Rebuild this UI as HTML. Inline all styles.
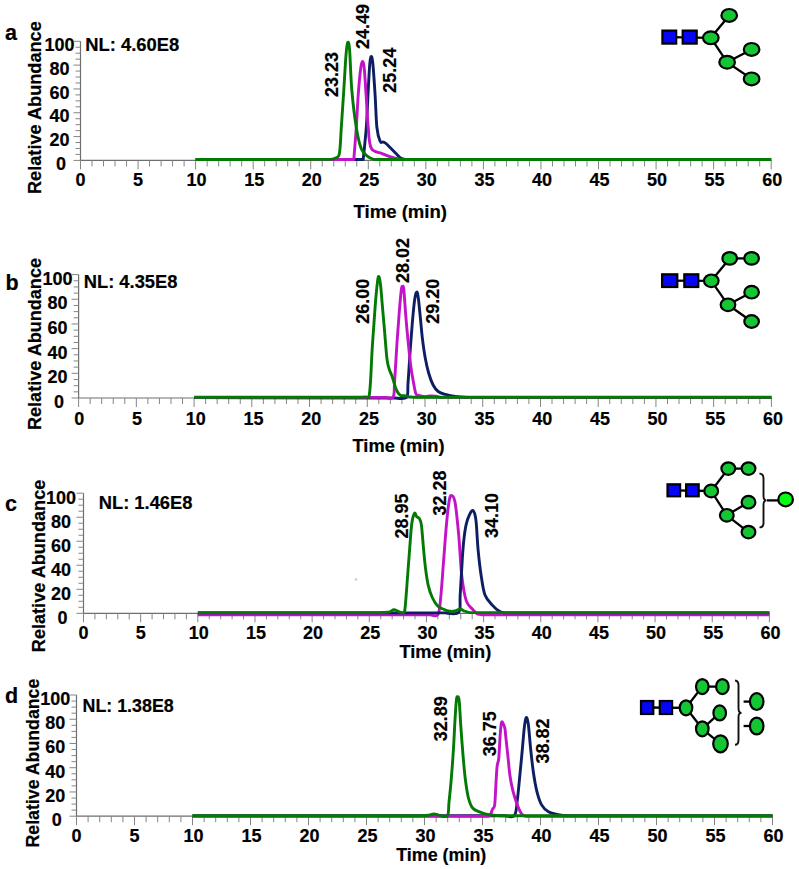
<!DOCTYPE html>
<html><head><meta charset="utf-8"><style>
html,body{margin:0;padding:0;background:#fff;width:799px;height:869px;overflow:hidden}
svg{display:block}
text{font-family:"Liberation Sans",sans-serif;font-weight:bold;fill:#000;stroke:#000;stroke-width:0.2px}
</style></head><body>
<svg width="799" height="869" viewBox="0 0 799 869">
<rect width="799" height="869" fill="#fff"/>
<text x="5.00" y="40.30" font-size="21.5" text-anchor="start">a</text>
<text x="0" y="0" font-size="18" text-anchor="start" transform="translate(41.00,194.00) rotate(-90)" textLength="172.8" lengthAdjust="spacingAndGlyphs">Relative Abundance</text>
<path d="M80.50,41.30 V160.40 H771.20" stroke="#6e6e6e" stroke-width="1.2" fill="none"/>
<g stroke="#858585" stroke-width="1.0" fill="none">
<path d="M73.50,160.40 H80.50"/>
<path d="M75.50,154.44 H80.50"/>
<path d="M75.50,148.49 H80.50"/>
<path d="M75.50,142.53 H80.50"/>
<path d="M73.50,136.58 H80.50"/>
<path d="M75.50,130.62 H80.50"/>
<path d="M75.50,124.67 H80.50"/>
<path d="M75.50,118.72 H80.50"/>
<path d="M73.50,112.76 H80.50"/>
<path d="M75.50,106.81 H80.50"/>
<path d="M75.50,100.85 H80.50"/>
<path d="M75.50,94.89 H80.50"/>
<path d="M73.50,88.94 H80.50"/>
<path d="M75.50,82.98 H80.50"/>
<path d="M75.50,77.03 H80.50"/>
<path d="M75.50,71.08 H80.50"/>
<path d="M73.50,65.12 H80.50"/>
<path d="M75.50,59.17 H80.50"/>
<path d="M75.50,53.21 H80.50"/>
<path d="M75.50,47.25 H80.50"/>
<path d="M73.50,41.30 H80.50"/>
<path d="M80.50,160.40 V169.40"/>
<path d="M92.01,160.40 V166.40"/>
<path d="M103.52,160.40 V166.40"/>
<path d="M115.03,160.40 V166.40"/>
<path d="M126.55,160.40 V166.40"/>
<path d="M138.06,160.40 V169.40"/>
<path d="M149.57,160.40 V166.40"/>
<path d="M161.08,160.40 V166.40"/>
<path d="M172.59,160.40 V166.40"/>
<path d="M184.11,160.40 V166.40"/>
<path d="M195.62,160.40 V169.40"/>
<path d="M207.13,160.40 V166.40"/>
<path d="M218.64,160.40 V166.40"/>
<path d="M230.15,160.40 V166.40"/>
<path d="M241.66,160.40 V166.40"/>
<path d="M253.18,160.40 V169.40"/>
<path d="M264.69,160.40 V166.40"/>
<path d="M276.20,160.40 V166.40"/>
<path d="M287.71,160.40 V166.40"/>
<path d="M299.22,160.40 V166.40"/>
<path d="M310.73,160.40 V169.40"/>
<path d="M322.25,160.40 V166.40"/>
<path d="M333.76,160.40 V166.40"/>
<path d="M345.27,160.40 V166.40"/>
<path d="M356.78,160.40 V166.40"/>
<path d="M368.29,160.40 V169.40"/>
<path d="M379.80,160.40 V166.40"/>
<path d="M391.31,160.40 V166.40"/>
<path d="M402.83,160.40 V166.40"/>
<path d="M414.34,160.40 V166.40"/>
<path d="M425.85,160.40 V169.40"/>
<path d="M437.36,160.40 V166.40"/>
<path d="M448.87,160.40 V166.40"/>
<path d="M460.38,160.40 V166.40"/>
<path d="M471.90,160.40 V166.40"/>
<path d="M483.41,160.40 V169.40"/>
<path d="M494.92,160.40 V166.40"/>
<path d="M506.43,160.40 V166.40"/>
<path d="M517.94,160.40 V166.40"/>
<path d="M529.45,160.40 V166.40"/>
<path d="M540.97,160.40 V169.40"/>
<path d="M552.48,160.40 V166.40"/>
<path d="M563.99,160.40 V166.40"/>
<path d="M575.50,160.40 V166.40"/>
<path d="M587.01,160.40 V166.40"/>
<path d="M598.52,160.40 V169.40"/>
<path d="M610.04,160.40 V166.40"/>
<path d="M621.55,160.40 V166.40"/>
<path d="M633.06,160.40 V166.40"/>
<path d="M644.57,160.40 V166.40"/>
<path d="M656.08,160.40 V169.40"/>
<path d="M667.60,160.40 V166.40"/>
<path d="M679.11,160.40 V166.40"/>
<path d="M690.62,160.40 V166.40"/>
<path d="M702.13,160.40 V166.40"/>
<path d="M713.64,160.40 V169.40"/>
<path d="M725.15,160.40 V166.40"/>
<path d="M736.66,160.40 V166.40"/>
<path d="M748.18,160.40 V166.40"/>
<path d="M759.69,160.40 V166.40"/>
<path d="M771.20,160.40 V169.40"/>
</g>
<text x="60.90" y="170.10" font-size="18" text-anchor="middle">0</text>
<text x="59.40" y="146.28" font-size="18" text-anchor="middle">20</text>
<text x="59.40" y="122.46" font-size="18" text-anchor="middle">40</text>
<text x="59.40" y="98.64" font-size="18" text-anchor="middle">60</text>
<text x="59.40" y="74.82" font-size="18" text-anchor="middle">80</text>
<text x="59.40" y="51.00" font-size="18" text-anchor="middle">100</text>
<text x="80.50" y="186.30" font-size="18" text-anchor="middle">0</text>
<text x="138.06" y="186.30" font-size="18" text-anchor="middle">5</text>
<text x="196.62" y="186.30" font-size="18" text-anchor="middle">10</text>
<text x="254.18" y="186.30" font-size="18" text-anchor="middle">15</text>
<text x="311.73" y="186.30" font-size="18" text-anchor="middle">20</text>
<text x="369.29" y="186.30" font-size="18" text-anchor="middle">25</text>
<text x="426.85" y="186.30" font-size="18" text-anchor="middle">30</text>
<text x="484.41" y="186.30" font-size="18" text-anchor="middle">35</text>
<text x="541.97" y="186.30" font-size="18" text-anchor="middle">40</text>
<text x="599.52" y="186.30" font-size="18" text-anchor="middle">45</text>
<text x="657.08" y="186.30" font-size="18" text-anchor="middle">50</text>
<text x="714.64" y="186.30" font-size="18" text-anchor="middle">55</text>
<text x="772.20" y="186.30" font-size="18" text-anchor="middle">60</text>
<text x="353.50" y="217.80" font-size="18" text-anchor="start" textLength="93.5" lengthAdjust="spacingAndGlyphs">Time (min)</text>
<text x="85.20" y="51.30" font-size="18" text-anchor="start" textLength="94.0" lengthAdjust="spacingAndGlyphs">NL: 4.60E8</text>
<path d="M195.62,159.50 L363.20,159.50 C363.72,154.17 365.50,138.25 366.30,127.50 C367.10,116.75 367.45,105.25 368.00,95.00 C368.55,84.75 369.10,72.42 369.60,66.00 C370.10,59.58 370.47,57.00 371.00,56.50 C371.53,56.00 372.12,56.58 372.80,63.00 C373.48,69.42 374.42,84.25 375.10,95.00 C375.78,105.75 376.07,119.78 376.90,127.50 C377.73,135.22 379.08,138.88 380.10,141.30 C381.12,143.72 382.02,141.63 383.00,142.00 C383.98,142.37 384.62,142.37 386.00,143.50 C387.38,144.63 389.63,147.13 391.30,148.80 C392.97,150.47 394.53,152.03 396.00,153.50 C397.47,154.97 398.60,156.62 400.10,157.60 C401.60,158.58 404.18,159.10 405.00,159.40 L771.20,159.50" fill="none" stroke="#0e1e62" stroke-width="2.90" stroke-linejoin="round" stroke-linecap="butt"/>
<path d="M195.62,159.50 L353.80,159.50 C354.22,154.17 355.57,138.25 356.30,127.50 C357.03,116.75 357.50,104.58 358.20,95.00 C358.90,85.42 359.82,75.58 360.50,70.00 C361.18,64.42 361.68,61.83 362.30,61.50 C362.92,61.17 363.57,62.42 364.20,68.00 C364.83,73.58 365.43,85.08 366.10,95.00 C366.77,104.92 367.33,118.63 368.20,127.50 C369.07,136.37 368.90,143.82 371.30,148.20 C373.70,152.58 378.63,152.13 382.60,153.80 C386.57,155.47 391.87,157.25 395.10,158.20 C398.33,159.15 400.85,159.28 402.00,159.50 L771.20,159.50" fill="none" stroke="#c412c8" stroke-width="2.90" stroke-linejoin="round" stroke-linecap="butt"/>
<path d="M195.62,159.50 L331.30,159.40 C331.92,159.20 333.75,158.82 335.00,158.20 C336.25,157.58 337.93,157.73 338.80,155.70 C339.67,153.67 339.78,150.70 340.20,146.00 C340.62,141.30 340.70,136.83 341.30,127.50 C341.90,118.17 343.02,102.08 343.80,90.00 C344.58,77.92 345.35,62.92 346.00,55.00 C346.65,47.08 347.10,43.33 347.70,42.50 C348.30,41.67 348.92,42.08 349.60,50.00 C350.28,57.92 350.68,77.08 351.80,90.00 C352.92,102.92 354.72,117.70 356.30,127.50 C357.88,137.30 359.42,144.00 361.30,148.80 C363.18,153.60 365.48,154.52 367.60,156.30 C369.72,158.08 372.93,158.97 374.00,159.50 L771.20,159.50" fill="none" stroke="#037a03" stroke-width="2.90" stroke-linejoin="round" stroke-linecap="butt"/>
<text x="0" y="0" font-size="18" text-anchor="start" transform="translate(338.40,96.90) rotate(-90)" textLength="45" lengthAdjust="spacingAndGlyphs">23.23</text>
<text x="0" y="0" font-size="18" text-anchor="start" transform="translate(368.70,49.00) rotate(-90)" textLength="45" lengthAdjust="spacingAndGlyphs">24.49</text>
<text x="0" y="0" font-size="18" text-anchor="start" transform="translate(396.00,92.70) rotate(-90)" textLength="45" lengthAdjust="spacingAndGlyphs">25.24</text>
<path d="M669.30,37.10 L710.80,37.80" stroke="#000" stroke-width="2.3" fill="none"/>
<path d="M710.80,37.80 L729.20,15.40" stroke="#000" stroke-width="2.3" fill="none"/>
<path d="M710.80,37.80 L727.10,62.20" stroke="#000" stroke-width="2.3" fill="none"/>
<path d="M727.10,62.20 L751.60,49.40" stroke="#000" stroke-width="2.3" fill="none"/>
<path d="M727.10,62.20 L751.60,78.90" stroke="#000" stroke-width="2.3" fill="none"/>
<rect x="662.40" y="30.60" width="13.80" height="13.00" fill="#0606f4" stroke="#000" stroke-width="2.2"/>
<rect x="682.70" y="30.60" width="14.00" height="13.00" fill="#0606f4" stroke="#000" stroke-width="2.2"/>
<ellipse cx="710.80" cy="37.80" rx="7.80" ry="6.40" fill="#14c634" stroke="#000" stroke-width="2.2"/>
<ellipse cx="729.20" cy="15.40" rx="7.80" ry="6.40" fill="#14c634" stroke="#000" stroke-width="2.2"/>
<ellipse cx="727.10" cy="62.20" rx="7.80" ry="6.40" fill="#14c634" stroke="#000" stroke-width="2.2"/>
<ellipse cx="751.60" cy="49.40" rx="7.80" ry="6.40" fill="#14c634" stroke="#000" stroke-width="2.2"/>
<ellipse cx="751.60" cy="78.90" rx="7.80" ry="6.40" fill="#14c634" stroke="#000" stroke-width="2.2"/>
<text x="5.50" y="290.00" font-size="21.5" text-anchor="start">b</text>
<text x="0" y="0" font-size="18" text-anchor="start" transform="translate(40.80,430.00) rotate(-90)" textLength="172.0" lengthAdjust="spacingAndGlyphs">Relative Abundance</text>
<path d="M78.60,274.60 V398.00 H771.40" stroke="#6e6e6e" stroke-width="1.2" fill="none"/>
<g stroke="#858585" stroke-width="1.0" fill="none">
<path d="M71.60,398.00 H78.60"/>
<path d="M73.60,391.83 H78.60"/>
<path d="M73.60,385.66 H78.60"/>
<path d="M73.60,379.49 H78.60"/>
<path d="M71.60,373.32 H78.60"/>
<path d="M73.60,367.15 H78.60"/>
<path d="M73.60,360.98 H78.60"/>
<path d="M73.60,354.81 H78.60"/>
<path d="M71.60,348.64 H78.60"/>
<path d="M73.60,342.47 H78.60"/>
<path d="M73.60,336.30 H78.60"/>
<path d="M73.60,330.13 H78.60"/>
<path d="M71.60,323.96 H78.60"/>
<path d="M73.60,317.79 H78.60"/>
<path d="M73.60,311.62 H78.60"/>
<path d="M73.60,305.45 H78.60"/>
<path d="M71.60,299.28 H78.60"/>
<path d="M73.60,293.11 H78.60"/>
<path d="M73.60,286.94 H78.60"/>
<path d="M73.60,280.77 H78.60"/>
<path d="M71.60,274.60 H78.60"/>
<path d="M78.60,398.00 V407.00"/>
<path d="M90.15,398.00 V404.00"/>
<path d="M101.69,398.00 V404.00"/>
<path d="M113.24,398.00 V404.00"/>
<path d="M124.79,398.00 V404.00"/>
<path d="M136.33,398.00 V407.00"/>
<path d="M147.88,398.00 V404.00"/>
<path d="M159.43,398.00 V404.00"/>
<path d="M170.97,398.00 V404.00"/>
<path d="M182.52,398.00 V404.00"/>
<path d="M194.07,398.00 V407.00"/>
<path d="M205.61,398.00 V404.00"/>
<path d="M217.16,398.00 V404.00"/>
<path d="M228.71,398.00 V404.00"/>
<path d="M240.25,398.00 V404.00"/>
<path d="M251.80,398.00 V407.00"/>
<path d="M263.35,398.00 V404.00"/>
<path d="M274.89,398.00 V404.00"/>
<path d="M286.44,398.00 V404.00"/>
<path d="M297.99,398.00 V404.00"/>
<path d="M309.53,398.00 V407.00"/>
<path d="M321.08,398.00 V404.00"/>
<path d="M332.63,398.00 V404.00"/>
<path d="M344.17,398.00 V404.00"/>
<path d="M355.72,398.00 V404.00"/>
<path d="M367.27,398.00 V407.00"/>
<path d="M378.81,398.00 V404.00"/>
<path d="M390.36,398.00 V404.00"/>
<path d="M401.91,398.00 V404.00"/>
<path d="M413.45,398.00 V404.00"/>
<path d="M425.00,398.00 V407.00"/>
<path d="M436.55,398.00 V404.00"/>
<path d="M448.09,398.00 V404.00"/>
<path d="M459.64,398.00 V404.00"/>
<path d="M471.19,398.00 V404.00"/>
<path d="M482.73,398.00 V407.00"/>
<path d="M494.28,398.00 V404.00"/>
<path d="M505.83,398.00 V404.00"/>
<path d="M517.37,398.00 V404.00"/>
<path d="M528.92,398.00 V404.00"/>
<path d="M540.47,398.00 V407.00"/>
<path d="M552.01,398.00 V404.00"/>
<path d="M563.56,398.00 V404.00"/>
<path d="M575.11,398.00 V404.00"/>
<path d="M586.65,398.00 V404.00"/>
<path d="M598.20,398.00 V407.00"/>
<path d="M609.75,398.00 V404.00"/>
<path d="M621.29,398.00 V404.00"/>
<path d="M632.84,398.00 V404.00"/>
<path d="M644.39,398.00 V404.00"/>
<path d="M655.93,398.00 V407.00"/>
<path d="M667.48,398.00 V404.00"/>
<path d="M679.03,398.00 V404.00"/>
<path d="M690.57,398.00 V404.00"/>
<path d="M702.12,398.00 V404.00"/>
<path d="M713.67,398.00 V407.00"/>
<path d="M725.21,398.00 V404.00"/>
<path d="M736.76,398.00 V404.00"/>
<path d="M748.31,398.00 V404.00"/>
<path d="M759.85,398.00 V404.00"/>
<path d="M771.40,398.00 V407.00"/>
</g>
<text x="59.00" y="408.00" font-size="18" text-anchor="middle">0</text>
<text x="57.50" y="383.32" font-size="18" text-anchor="middle">20</text>
<text x="57.50" y="358.64" font-size="18" text-anchor="middle">40</text>
<text x="57.50" y="333.96" font-size="18" text-anchor="middle">60</text>
<text x="57.50" y="309.28" font-size="18" text-anchor="middle">80</text>
<text x="57.50" y="284.60" font-size="18" text-anchor="middle">100</text>
<text x="79.30" y="424.50" font-size="18" text-anchor="middle">0</text>
<text x="137.03" y="424.50" font-size="18" text-anchor="middle">5</text>
<text x="195.77" y="424.50" font-size="18" text-anchor="middle">10</text>
<text x="253.50" y="424.50" font-size="18" text-anchor="middle">15</text>
<text x="311.23" y="424.50" font-size="18" text-anchor="middle">20</text>
<text x="368.97" y="424.50" font-size="18" text-anchor="middle">25</text>
<text x="426.70" y="424.50" font-size="18" text-anchor="middle">30</text>
<text x="484.43" y="424.50" font-size="18" text-anchor="middle">35</text>
<text x="542.17" y="424.50" font-size="18" text-anchor="middle">40</text>
<text x="599.90" y="424.50" font-size="18" text-anchor="middle">45</text>
<text x="657.63" y="424.50" font-size="18" text-anchor="middle">50</text>
<text x="715.37" y="424.50" font-size="18" text-anchor="middle">55</text>
<text x="773.10" y="424.50" font-size="18" text-anchor="middle">60</text>
<text x="352.50" y="451.60" font-size="18" text-anchor="start" textLength="92.0" lengthAdjust="spacingAndGlyphs">Time (min)</text>
<text x="83.75" y="288.00" font-size="18" text-anchor="start" textLength="93.7" lengthAdjust="spacingAndGlyphs">NL: 4.35E8</text>
<path d="M194.07,397.60 L395.00,398.00 C396.92,397.88 404.33,399.70 406.50,397.30 C408.67,394.90 407.40,391.17 408.00,383.60 C408.60,376.03 409.38,361.97 410.10,351.90 C410.82,341.83 411.58,331.58 412.30,323.20 C413.02,314.82 413.73,306.72 414.40,301.60 C415.07,296.48 415.70,293.47 416.30,292.50 C416.90,291.53 417.35,291.88 418.00,295.80 C418.65,299.72 419.48,309.03 420.20,316.00 C420.92,322.97 421.47,330.65 422.30,337.60 C423.13,344.55 424.12,351.72 425.20,357.70 C426.28,363.68 427.48,368.95 428.80,373.50 C430.12,378.05 431.53,382.00 433.10,385.00 C434.67,388.00 436.15,389.93 438.20,391.50 C440.25,393.07 442.53,393.57 445.40,394.40 C448.27,395.23 451.33,396.00 455.40,396.50 C459.47,397.00 465.70,397.22 469.80,397.40 C473.90,397.58 478.30,397.57 480.00,397.60 L771.40,397.60" fill="none" stroke="#0e1e62" stroke-width="2.90" stroke-linejoin="round" stroke-linecap="butt"/>
<path d="M194.07,397.40 L385.00,397.40 C386.35,397.37 391.50,399.83 393.10,397.20 C394.70,394.57 393.95,390.68 394.60,381.60 C395.25,372.52 396.22,354.37 397.00,342.70 C397.78,331.03 398.58,320.38 399.30,311.60 C400.02,302.82 400.78,294.17 401.30,290.00 C401.82,285.83 401.98,286.68 402.40,286.60 C402.82,286.52 403.23,284.60 403.80,289.50 C404.37,294.40 405.10,307.52 405.80,316.00 C406.50,324.48 407.17,332.02 408.00,340.40 C408.83,348.78 409.85,359.10 410.80,366.30 C411.75,373.50 412.85,379.03 413.70,383.60 C414.55,388.17 415.07,391.72 415.90,393.70 C416.73,395.68 417.18,395.02 418.70,395.50 C420.22,395.98 423.12,396.52 425.00,396.60 C426.88,396.68 428.28,396.07 430.00,396.00 C431.72,395.93 433.63,395.97 435.30,396.20 C436.97,396.43 439.22,397.20 440.00,397.40 L771.40,397.40" fill="none" stroke="#c412c8" stroke-width="2.90" stroke-linejoin="round" stroke-linecap="butt"/>
<path d="M194.07,397.20 L360.00,397.20 C361.00,397.15 364.50,397.03 366.00,396.90 C367.50,396.77 368.25,398.95 369.00,396.40 C369.75,393.85 369.98,389.25 370.50,381.60 C371.02,373.95 371.57,359.57 372.10,350.50 C372.63,341.43 373.05,336.27 373.70,327.20 C374.35,318.13 375.23,304.47 376.00,296.10 C376.77,287.73 377.57,279.07 378.30,277.00 C379.03,274.93 379.75,279.22 380.40,283.70 C381.05,288.18 381.52,296.13 382.20,303.90 C382.88,311.67 383.72,321.23 384.50,330.30 C385.28,339.37 386.12,351.82 386.90,358.30 C387.68,364.78 388.30,366.10 389.20,369.20 C390.10,372.30 391.13,373.53 392.30,376.90 C393.47,380.27 394.90,386.35 396.20,389.40 C397.50,392.45 398.68,394.13 400.10,395.20 C401.52,396.27 403.28,395.57 404.70,395.80 C406.12,396.03 406.88,396.37 408.60,396.60 C410.32,396.83 413.93,397.10 415.00,397.20 L771.40,397.20" fill="none" stroke="#037a03" stroke-width="2.90" stroke-linejoin="round" stroke-linecap="butt"/>
<text x="0" y="0" font-size="18" text-anchor="start" transform="translate(368.50,323.80) rotate(-90)" textLength="45" lengthAdjust="spacingAndGlyphs">26.00</text>
<text x="0" y="0" font-size="18" text-anchor="start" transform="translate(408.70,283.00) rotate(-90)" textLength="45" lengthAdjust="spacingAndGlyphs">28.02</text>
<text x="0" y="0" font-size="18" text-anchor="start" transform="translate(439.00,323.70) rotate(-90)" textLength="45" lengthAdjust="spacingAndGlyphs">29.20</text>
<path d="M669.70,280.65 L711.30,280.80" stroke="#000" stroke-width="2.3" fill="none"/>
<path d="M711.30,280.80 L729.70,258.40" stroke="#000" stroke-width="2.3" fill="none"/>
<path d="M729.70,258.40 L751.60,258.40" stroke="#000" stroke-width="2.3" fill="none"/>
<path d="M711.30,280.80 L728.00,304.80" stroke="#000" stroke-width="2.3" fill="none"/>
<path d="M728.00,304.80 L751.60,292.20" stroke="#000" stroke-width="2.3" fill="none"/>
<path d="M728.00,304.80 L751.60,321.50" stroke="#000" stroke-width="2.3" fill="none"/>
<rect x="662.10" y="274.30" width="15.20" height="12.70" fill="#0606f4" stroke="#000" stroke-width="2.2"/>
<rect x="684.30" y="274.30" width="14.00" height="12.70" fill="#0606f4" stroke="#000" stroke-width="2.2"/>
<ellipse cx="711.30" cy="280.80" rx="7.30" ry="6.30" fill="#14c634" stroke="#000" stroke-width="2.2"/>
<ellipse cx="729.70" cy="258.40" rx="7.30" ry="6.30" fill="#14c634" stroke="#000" stroke-width="2.2"/>
<ellipse cx="751.60" cy="258.40" rx="7.30" ry="6.30" fill="#14c634" stroke="#000" stroke-width="2.2"/>
<ellipse cx="728.00" cy="304.80" rx="7.30" ry="6.30" fill="#14c634" stroke="#000" stroke-width="2.2"/>
<ellipse cx="751.60" cy="292.20" rx="7.30" ry="6.30" fill="#14c634" stroke="#000" stroke-width="2.2"/>
<ellipse cx="751.60" cy="321.50" rx="7.30" ry="6.30" fill="#14c634" stroke="#000" stroke-width="2.2"/>
<text x="5.00" y="511.20" font-size="21.5" text-anchor="start">c</text>
<text x="0" y="0" font-size="18" text-anchor="start" transform="translate(45.00,652.20) rotate(-90)" textLength="172.5" lengthAdjust="spacingAndGlyphs">Relative Abundance</text>
<path d="M83.50,493.20 V613.30 H769.40" stroke="#6e6e6e" stroke-width="1.2" fill="none"/>
<g stroke="#858585" stroke-width="1.0" fill="none">
<path d="M76.50,613.30 H83.50"/>
<path d="M78.50,607.29 H83.50"/>
<path d="M78.50,601.29 H83.50"/>
<path d="M78.50,595.28 H83.50"/>
<path d="M76.50,589.28 H83.50"/>
<path d="M78.50,583.27 H83.50"/>
<path d="M78.50,577.27 H83.50"/>
<path d="M78.50,571.26 H83.50"/>
<path d="M76.50,565.26 H83.50"/>
<path d="M78.50,559.25 H83.50"/>
<path d="M78.50,553.25 H83.50"/>
<path d="M78.50,547.25 H83.50"/>
<path d="M76.50,541.24 H83.50"/>
<path d="M78.50,535.24 H83.50"/>
<path d="M78.50,529.23 H83.50"/>
<path d="M78.50,523.23 H83.50"/>
<path d="M76.50,517.22 H83.50"/>
<path d="M78.50,511.21 H83.50"/>
<path d="M78.50,505.21 H83.50"/>
<path d="M78.50,499.20 H83.50"/>
<path d="M76.50,493.20 H83.50"/>
<path d="M83.50,613.30 V622.30"/>
<path d="M94.93,613.30 V619.30"/>
<path d="M106.36,613.30 V619.30"/>
<path d="M117.80,613.30 V619.30"/>
<path d="M129.23,613.30 V619.30"/>
<path d="M140.66,613.30 V622.30"/>
<path d="M152.09,613.30 V619.30"/>
<path d="M163.52,613.30 V619.30"/>
<path d="M174.95,613.30 V619.30"/>
<path d="M186.38,613.30 V619.30"/>
<path d="M197.82,613.30 V622.30"/>
<path d="M209.25,613.30 V619.30"/>
<path d="M220.68,613.30 V619.30"/>
<path d="M232.11,613.30 V619.30"/>
<path d="M243.54,613.30 V619.30"/>
<path d="M254.97,613.30 V622.30"/>
<path d="M266.41,613.30 V619.30"/>
<path d="M277.84,613.30 V619.30"/>
<path d="M289.27,613.30 V619.30"/>
<path d="M300.70,613.30 V619.30"/>
<path d="M312.13,613.30 V622.30"/>
<path d="M323.56,613.30 V619.30"/>
<path d="M335.00,613.30 V619.30"/>
<path d="M346.43,613.30 V619.30"/>
<path d="M357.86,613.30 V619.30"/>
<path d="M369.29,613.30 V622.30"/>
<path d="M380.72,613.30 V619.30"/>
<path d="M392.15,613.30 V619.30"/>
<path d="M403.59,613.30 V619.30"/>
<path d="M415.02,613.30 V619.30"/>
<path d="M426.45,613.30 V622.30"/>
<path d="M437.88,613.30 V619.30"/>
<path d="M449.31,613.30 V619.30"/>
<path d="M460.75,613.30 V619.30"/>
<path d="M472.18,613.30 V619.30"/>
<path d="M483.61,613.30 V622.30"/>
<path d="M495.04,613.30 V619.30"/>
<path d="M506.47,613.30 V619.30"/>
<path d="M517.90,613.30 V619.30"/>
<path d="M529.34,613.30 V619.30"/>
<path d="M540.77,613.30 V622.30"/>
<path d="M552.20,613.30 V619.30"/>
<path d="M563.63,613.30 V619.30"/>
<path d="M575.06,613.30 V619.30"/>
<path d="M586.49,613.30 V619.30"/>
<path d="M597.92,613.30 V622.30"/>
<path d="M609.36,613.30 V619.30"/>
<path d="M620.79,613.30 V619.30"/>
<path d="M632.22,613.30 V619.30"/>
<path d="M643.65,613.30 V619.30"/>
<path d="M655.08,613.30 V622.30"/>
<path d="M666.51,613.30 V619.30"/>
<path d="M677.95,613.30 V619.30"/>
<path d="M689.38,613.30 V619.30"/>
<path d="M700.81,613.30 V619.30"/>
<path d="M712.24,613.30 V622.30"/>
<path d="M723.67,613.30 V619.30"/>
<path d="M735.11,613.30 V619.30"/>
<path d="M746.54,613.30 V619.30"/>
<path d="M757.97,613.30 V619.30"/>
<path d="M769.40,613.30 V622.30"/>
</g>
<text x="62.50" y="623.60" font-size="18" text-anchor="middle">0</text>
<text x="61.00" y="599.58" font-size="18" text-anchor="middle">20</text>
<text x="61.00" y="575.56" font-size="18" text-anchor="middle">40</text>
<text x="61.00" y="551.54" font-size="18" text-anchor="middle">60</text>
<text x="61.00" y="527.52" font-size="18" text-anchor="middle">80</text>
<text x="61.00" y="503.50" font-size="18" text-anchor="middle">100</text>
<text x="83.50" y="638.80" font-size="18" text-anchor="middle">0</text>
<text x="140.66" y="638.80" font-size="18" text-anchor="middle">5</text>
<text x="198.82" y="638.80" font-size="18" text-anchor="middle">10</text>
<text x="255.97" y="638.80" font-size="18" text-anchor="middle">15</text>
<text x="313.13" y="638.80" font-size="18" text-anchor="middle">20</text>
<text x="370.29" y="638.80" font-size="18" text-anchor="middle">25</text>
<text x="427.45" y="638.80" font-size="18" text-anchor="middle">30</text>
<text x="484.61" y="638.80" font-size="18" text-anchor="middle">35</text>
<text x="541.77" y="638.80" font-size="18" text-anchor="middle">40</text>
<text x="598.92" y="638.80" font-size="18" text-anchor="middle">45</text>
<text x="656.08" y="638.80" font-size="18" text-anchor="middle">50</text>
<text x="713.24" y="638.80" font-size="18" text-anchor="middle">55</text>
<text x="770.40" y="638.80" font-size="18" text-anchor="middle">60</text>
<text x="399.50" y="657.50" font-size="18" text-anchor="start" textLength="91.8" lengthAdjust="spacingAndGlyphs">Time (min)</text>
<text x="98.75" y="508.75" font-size="18" text-anchor="start" textLength="93.7" lengthAdjust="spacingAndGlyphs">NL: 1.46E8</text>
<path d="M197.82,614.70 L430.00,614.70 C431.33,614.65 436.20,617.42 438.00,614.40 C439.80,611.38 439.88,605.32 440.80,596.60 C441.72,587.88 442.55,574.20 443.50,562.10 C444.45,550.00 445.58,534.02 446.50,524.00 C447.42,513.98 448.22,506.75 449.00,502.00 C449.78,497.25 450.20,495.50 451.20,495.50 C452.20,495.50 453.75,495.43 455.00,502.00 C456.25,508.57 457.58,522.70 458.70,534.90 C459.82,547.10 460.45,564.25 461.70,575.20 C462.95,586.15 464.33,594.87 466.20,600.60 C468.07,606.33 471.03,607.37 472.90,609.60 C474.77,611.83 475.88,613.15 477.40,614.00 C478.92,614.85 481.23,614.58 482.00,614.70 L769.40,614.70" fill="none" stroke="#c412c8" stroke-width="2.90" stroke-linejoin="round" stroke-linecap="butt"/>
<path d="M197.82,612.90 L445.00,612.90 C447.28,612.80 456.17,615.33 458.70,612.30 C461.23,609.27 459.58,603.87 460.20,594.70 C460.82,585.53 461.78,566.53 462.40,557.30 C463.02,548.07 463.27,544.78 463.90,539.30 C464.53,533.82 465.32,528.38 466.20,524.40 C467.08,520.42 468.08,517.72 469.20,515.40 C470.32,513.08 471.78,509.75 472.90,510.50 C474.02,511.25 475.03,513.35 475.90,519.90 C476.77,526.45 477.23,540.58 478.10,549.80 C478.97,559.02 479.97,567.72 481.10,575.20 C482.23,582.68 483.03,589.72 484.90,594.70 C486.77,599.68 489.82,602.28 492.30,605.10 C494.78,607.92 497.68,610.30 499.80,611.60 C501.92,612.90 504.13,612.68 505.00,612.90 L769.40,612.90" fill="none" stroke="#0e1e62" stroke-width="2.90" stroke-linejoin="round" stroke-linecap="butt"/>
<path d="M197.82,612.60 L380.00,612.60 C381.62,612.47 387.40,612.30 389.70,611.80 C392.00,611.30 392.50,609.73 393.80,609.60 C395.10,609.47 396.35,610.53 397.50,611.00 C398.65,611.47 399.58,612.17 400.70,612.40 C401.82,612.63 403.40,613.87 404.20,612.40 C405.00,610.93 404.93,609.67 405.50,603.60 C406.07,597.53 406.90,585.22 407.60,576.00 C408.30,566.78 409.00,557.05 409.70,548.30 C410.40,539.55 411.00,529.33 411.80,523.50 C412.60,517.67 413.70,514.45 414.50,513.30 C415.30,512.15 415.80,515.72 416.60,516.60 C417.40,517.48 418.50,517.22 419.30,518.60 C420.10,519.98 420.70,519.95 421.40,524.90 C422.10,529.85 422.80,540.95 423.50,548.30 C424.20,555.65 424.80,562.78 425.60,569.00 C426.40,575.22 427.15,580.77 428.30,585.60 C429.45,590.43 430.88,594.55 432.50,598.00 C434.12,601.45 435.93,604.33 438.00,606.30 C440.07,608.27 442.90,608.97 444.90,609.80 C446.90,610.63 448.32,611.10 450.00,611.30 C451.68,611.50 453.30,611.40 455.00,611.00 C456.70,610.60 458.70,608.90 460.20,608.90 C461.70,608.90 462.37,610.38 464.00,611.00 C465.63,611.62 469.00,612.33 470.00,612.60 L769.40,612.60" fill="none" stroke="#037a03" stroke-width="2.90" stroke-linejoin="round" stroke-linecap="butt"/>
<text x="0" y="0" font-size="18" text-anchor="start" transform="translate(408.20,538.60) rotate(-90)" textLength="45" lengthAdjust="spacingAndGlyphs">28.95</text>
<text x="0" y="0" font-size="18" text-anchor="start" transform="translate(445.70,515.50) rotate(-90)" textLength="45" lengthAdjust="spacingAndGlyphs">32.28</text>
<text x="0" y="0" font-size="18" text-anchor="start" transform="translate(498.40,538.00) rotate(-90)" textLength="45" lengthAdjust="spacingAndGlyphs">34.10</text>
<path d="M673.80,490.30 L711.20,491.00" stroke="#000" stroke-width="2.3" fill="none"/>
<path d="M711.20,491.00 L728.30,468.60" stroke="#000" stroke-width="2.3" fill="none"/>
<path d="M728.30,468.60 L748.50,468.60" stroke="#000" stroke-width="2.3" fill="none"/>
<path d="M711.20,491.00 L726.80,515.30" stroke="#000" stroke-width="2.3" fill="none"/>
<path d="M726.80,515.30 L748.50,502.20" stroke="#000" stroke-width="2.3" fill="none"/>
<path d="M726.80,515.30 L748.50,532.10" stroke="#000" stroke-width="2.3" fill="none"/>
<rect x="667.50" y="484.30" width="12.60" height="12.00" fill="#0606f4" stroke="#000" stroke-width="2.2"/>
<rect x="686.10" y="484.30" width="12.60" height="12.00" fill="#0606f4" stroke="#000" stroke-width="2.2"/>
<ellipse cx="711.20" cy="491.00" rx="6.90" ry="6.30" fill="#14c634" stroke="#000" stroke-width="2.2"/>
<ellipse cx="728.30" cy="468.60" rx="6.90" ry="6.30" fill="#14c634" stroke="#000" stroke-width="2.2"/>
<ellipse cx="748.50" cy="468.60" rx="6.90" ry="6.30" fill="#14c634" stroke="#000" stroke-width="2.2"/>
<ellipse cx="726.80" cy="515.30" rx="6.90" ry="6.30" fill="#14c634" stroke="#000" stroke-width="2.2"/>
<ellipse cx="748.50" cy="502.20" rx="6.90" ry="6.30" fill="#14c634" stroke="#000" stroke-width="2.2"/>
<ellipse cx="748.50" cy="532.10" rx="6.90" ry="6.30" fill="#14c634" stroke="#000" stroke-width="2.2"/>
<path d="M759.5,473.5 Q763.5,474 763.5,478 V496 Q763.5,500.4 766.5,500.4 Q763.5,500.4 763.5,505 V523 Q763.5,527.4 759.5,527.4" stroke="#111" stroke-width="1.9" fill="none"/>
<path d="M767.00,500.40 L778.00,500.40" stroke="#000" stroke-width="2.3" fill="none"/>
<ellipse cx="785.60" cy="499.40" rx="7.30" ry="6.90" fill="#06fc12" stroke="#000" stroke-width="2.2"/>
<circle cx="356" cy="579.5" r="1.2" fill="#c8c8c8"/>
<text x="5.00" y="702.50" font-size="21.5" text-anchor="start">d</text>
<text x="0" y="0" font-size="18" text-anchor="start" transform="translate(39.20,847.50) rotate(-90)" textLength="168.8" lengthAdjust="spacingAndGlyphs">Relative Abundance</text>
<path d="M76.50,695.00 V816.20 H772.50" stroke="#6e6e6e" stroke-width="1.2" fill="none"/>
<g stroke="#858585" stroke-width="1.0" fill="none">
<path d="M69.50,816.20 H76.50"/>
<path d="M71.50,810.14 H76.50"/>
<path d="M71.50,804.08 H76.50"/>
<path d="M71.50,798.02 H76.50"/>
<path d="M69.50,791.96 H76.50"/>
<path d="M71.50,785.90 H76.50"/>
<path d="M71.50,779.84 H76.50"/>
<path d="M71.50,773.78 H76.50"/>
<path d="M69.50,767.72 H76.50"/>
<path d="M71.50,761.66 H76.50"/>
<path d="M71.50,755.60 H76.50"/>
<path d="M71.50,749.54 H76.50"/>
<path d="M69.50,743.48 H76.50"/>
<path d="M71.50,737.42 H76.50"/>
<path d="M71.50,731.36 H76.50"/>
<path d="M71.50,725.30 H76.50"/>
<path d="M69.50,719.24 H76.50"/>
<path d="M71.50,713.18 H76.50"/>
<path d="M71.50,707.12 H76.50"/>
<path d="M71.50,701.06 H76.50"/>
<path d="M69.50,695.00 H76.50"/>
<path d="M76.50,816.20 V825.20"/>
<path d="M88.10,816.20 V822.20"/>
<path d="M99.70,816.20 V822.20"/>
<path d="M111.30,816.20 V822.20"/>
<path d="M122.90,816.20 V822.20"/>
<path d="M134.50,816.20 V825.20"/>
<path d="M146.10,816.20 V822.20"/>
<path d="M157.70,816.20 V822.20"/>
<path d="M169.30,816.20 V822.20"/>
<path d="M180.90,816.20 V822.20"/>
<path d="M192.50,816.20 V825.20"/>
<path d="M204.10,816.20 V822.20"/>
<path d="M215.70,816.20 V822.20"/>
<path d="M227.30,816.20 V822.20"/>
<path d="M238.90,816.20 V822.20"/>
<path d="M250.50,816.20 V825.20"/>
<path d="M262.10,816.20 V822.20"/>
<path d="M273.70,816.20 V822.20"/>
<path d="M285.30,816.20 V822.20"/>
<path d="M296.90,816.20 V822.20"/>
<path d="M308.50,816.20 V825.20"/>
<path d="M320.10,816.20 V822.20"/>
<path d="M331.70,816.20 V822.20"/>
<path d="M343.30,816.20 V822.20"/>
<path d="M354.90,816.20 V822.20"/>
<path d="M366.50,816.20 V825.20"/>
<path d="M378.10,816.20 V822.20"/>
<path d="M389.70,816.20 V822.20"/>
<path d="M401.30,816.20 V822.20"/>
<path d="M412.90,816.20 V822.20"/>
<path d="M424.50,816.20 V825.20"/>
<path d="M436.10,816.20 V822.20"/>
<path d="M447.70,816.20 V822.20"/>
<path d="M459.30,816.20 V822.20"/>
<path d="M470.90,816.20 V822.20"/>
<path d="M482.50,816.20 V825.20"/>
<path d="M494.10,816.20 V822.20"/>
<path d="M505.70,816.20 V822.20"/>
<path d="M517.30,816.20 V822.20"/>
<path d="M528.90,816.20 V822.20"/>
<path d="M540.50,816.20 V825.20"/>
<path d="M552.10,816.20 V822.20"/>
<path d="M563.70,816.20 V822.20"/>
<path d="M575.30,816.20 V822.20"/>
<path d="M586.90,816.20 V822.20"/>
<path d="M598.50,816.20 V825.20"/>
<path d="M610.10,816.20 V822.20"/>
<path d="M621.70,816.20 V822.20"/>
<path d="M633.30,816.20 V822.20"/>
<path d="M644.90,816.20 V822.20"/>
<path d="M656.50,816.20 V825.20"/>
<path d="M668.10,816.20 V822.20"/>
<path d="M679.70,816.20 V822.20"/>
<path d="M691.30,816.20 V822.20"/>
<path d="M702.90,816.20 V822.20"/>
<path d="M714.50,816.20 V825.20"/>
<path d="M726.10,816.20 V822.20"/>
<path d="M737.70,816.20 V822.20"/>
<path d="M749.30,816.20 V822.20"/>
<path d="M760.90,816.20 V822.20"/>
<path d="M772.50,816.20 V825.20"/>
</g>
<text x="56.80" y="826.20" font-size="18" text-anchor="middle">0</text>
<text x="55.30" y="801.96" font-size="18" text-anchor="middle">20</text>
<text x="55.30" y="777.72" font-size="18" text-anchor="middle">40</text>
<text x="55.30" y="753.48" font-size="18" text-anchor="middle">60</text>
<text x="55.30" y="729.24" font-size="18" text-anchor="middle">80</text>
<text x="55.30" y="705.00" font-size="18" text-anchor="middle">100</text>
<text x="76.50" y="842.00" font-size="18" text-anchor="middle">0</text>
<text x="134.50" y="842.00" font-size="18" text-anchor="middle">5</text>
<text x="193.50" y="842.00" font-size="18" text-anchor="middle">10</text>
<text x="251.50" y="842.00" font-size="18" text-anchor="middle">15</text>
<text x="309.50" y="842.00" font-size="18" text-anchor="middle">20</text>
<text x="367.50" y="842.00" font-size="18" text-anchor="middle">25</text>
<text x="425.50" y="842.00" font-size="18" text-anchor="middle">30</text>
<text x="483.50" y="842.00" font-size="18" text-anchor="middle">35</text>
<text x="541.50" y="842.00" font-size="18" text-anchor="middle">40</text>
<text x="599.50" y="842.00" font-size="18" text-anchor="middle">45</text>
<text x="657.50" y="842.00" font-size="18" text-anchor="middle">50</text>
<text x="715.50" y="842.00" font-size="18" text-anchor="middle">55</text>
<text x="773.50" y="842.00" font-size="18" text-anchor="middle">60</text>
<text x="396.25" y="860.50" font-size="18" text-anchor="start" textLength="90.0" lengthAdjust="spacingAndGlyphs">Time (min)</text>
<text x="82.50" y="712.00" font-size="18" text-anchor="start" textLength="91.2" lengthAdjust="spacingAndGlyphs">NL: 1.38E8</text>
<path d="M192.50,815.80 L505.00,815.80 C506.58,815.75 512.43,818.23 514.50,815.50 C516.57,812.77 516.45,806.68 517.40,799.40 C518.35,792.12 519.38,780.08 520.20,771.80 C521.02,763.52 521.62,757.07 522.30,749.70 C522.98,742.33 523.67,732.97 524.30,727.60 C524.93,722.23 525.43,718.07 526.10,717.50 C526.77,716.93 527.55,719.07 528.30,724.20 C529.05,729.33 529.77,740.37 530.60,748.30 C531.43,756.23 532.27,764.67 533.30,771.80 C534.33,778.93 535.42,785.58 536.80,791.10 C538.18,796.62 539.65,801.45 541.60,804.90 C543.55,808.35 545.52,810.12 548.50,811.80 C551.48,813.48 555.92,814.33 559.50,815.00 C563.08,815.67 568.25,815.67 570.00,815.80 L772.50,815.80" fill="none" stroke="#0e1e62" stroke-width="2.90" stroke-linejoin="round" stroke-linecap="butt"/>
<path d="M192.50,816.30 L480.00,816.30 C481.50,816.25 487.25,816.28 489.00,816.00 C490.75,815.72 489.90,815.77 490.50,814.60 C491.10,813.43 491.90,810.62 492.60,809.00 C493.30,807.38 494.13,809.27 494.70,804.90 C495.27,800.53 495.60,789.23 496.00,782.80 C496.40,776.37 496.63,770.43 497.10,766.30 C497.57,762.17 498.28,763.30 498.80,758.00 C499.32,752.70 499.73,740.45 500.20,734.50 C500.67,728.55 501.07,724.02 501.60,722.30 C502.13,720.58 502.83,723.08 503.40,724.20 C503.97,725.32 504.62,727.05 505.00,729.00 C505.38,730.95 505.23,731.53 505.70,735.90 C506.17,740.27 507.12,748.77 507.80,755.20 C508.48,761.63 509.00,768.75 509.80,774.50 C510.60,780.25 511.43,784.87 512.60,789.70 C513.77,794.53 515.30,799.47 516.80,803.50 C518.30,807.53 520.07,811.77 521.60,813.90 C523.13,816.03 525.27,815.90 526.00,816.30 L772.50,816.30" fill="none" stroke="#c412c8" stroke-width="2.90" stroke-linejoin="round" stroke-linecap="butt"/>
<path d="M192.50,815.80 L420.00,815.70 C421.33,815.63 425.67,815.58 428.00,815.30 C430.33,815.02 432.00,813.97 434.00,814.00 C436.00,814.03 437.75,815.23 440.00,815.50 C442.25,815.77 446.00,817.80 447.50,815.60 C449.00,813.40 448.38,808.27 449.00,802.30 C449.62,796.33 450.47,788.53 451.20,779.80 C451.93,771.07 452.77,759.87 453.40,749.90 C454.03,739.93 454.50,728.32 455.00,720.00 C455.50,711.68 455.97,703.87 456.40,700.00 C456.83,696.13 457.13,696.63 457.60,696.80 C458.07,696.97 458.65,695.90 459.20,701.00 C459.75,706.10 460.23,718.00 460.90,727.40 C461.57,736.80 462.45,748.67 463.20,757.40 C463.95,766.13 464.53,773.07 465.40,779.80 C466.27,786.53 467.15,793.05 468.40,797.80 C469.65,802.55 470.65,805.80 472.90,808.30 C475.15,810.80 478.90,811.68 481.90,812.80 C484.90,813.92 487.88,814.52 490.90,815.00 C493.92,815.48 498.48,815.58 500.00,815.70 L772.50,815.80" fill="none" stroke="#037a03" stroke-width="2.90" stroke-linejoin="round" stroke-linecap="butt"/>
<text x="0" y="0" font-size="18" text-anchor="start" transform="translate(447.00,741.20) rotate(-90)" textLength="45" lengthAdjust="spacingAndGlyphs">32.89</text>
<text x="0" y="0" font-size="18" text-anchor="start" transform="translate(495.70,756.20) rotate(-90)" textLength="45" lengthAdjust="spacingAndGlyphs">36.75</text>
<text x="0" y="0" font-size="18" text-anchor="start" transform="translate(549.20,763.50) rotate(-90)" textLength="45" lengthAdjust="spacingAndGlyphs">38.82</text>
<path d="M647.30,707.50 L686.00,707.80" stroke="#000" stroke-width="2.3" fill="none"/>
<path d="M686.00,707.80 L702.30,686.60" stroke="#000" stroke-width="2.3" fill="none"/>
<path d="M702.30,686.60 L722.40,686.60" stroke="#000" stroke-width="2.3" fill="none"/>
<path d="M686.00,707.80 L702.30,728.80" stroke="#000" stroke-width="2.3" fill="none"/>
<path d="M702.30,728.80 L719.70,712.90" stroke="#000" stroke-width="2.3" fill="none"/>
<path d="M702.30,728.80 L720.50,743.80" stroke="#000" stroke-width="2.3" fill="none"/>
<rect x="641.00" y="701.00" width="12.30" height="13.00" fill="#0606f4" stroke="#000" stroke-width="2.2"/>
<rect x="659.80" y="701.00" width="12.30" height="13.00" fill="#0606f4" stroke="#000" stroke-width="2.2"/>
<ellipse cx="686.00" cy="707.80" rx="6.30" ry="7.50" fill="#14c634" stroke="#000" stroke-width="2.2"/>
<ellipse cx="702.30" cy="686.60" rx="6.30" ry="7.50" fill="#14c634" stroke="#000" stroke-width="2.2"/>
<ellipse cx="722.40" cy="686.60" rx="6.30" ry="7.50" fill="#14c634" stroke="#000" stroke-width="2.2"/>
<ellipse cx="702.30" cy="728.80" rx="6.30" ry="7.50" fill="#14c634" stroke="#000" stroke-width="2.2"/>
<ellipse cx="719.70" cy="712.90" rx="6.30" ry="7.50" fill="#14c634" stroke="#000" stroke-width="2.2"/>
<ellipse cx="720.50" cy="743.80" rx="7.30" ry="8.50" fill="#14c634" stroke="#000" stroke-width="2.2"/>
<path d="M735,680.5 Q738.5,681 738.5,685 V708 Q738.5,712.9 741.5,712.9 Q738.5,712.9 738.5,717 V740 Q738.5,744.8 735,744.8" stroke="#111" stroke-width="1.9" fill="none"/>
<path d="M743.60,701.60 L749.50,701.60" stroke="#000" stroke-width="2.3" fill="none"/>
<path d="M743.60,726.00 L749.50,726.00" stroke="#000" stroke-width="2.3" fill="none"/>
<ellipse cx="756.70" cy="701.60" rx="6.80" ry="8.40" fill="#14c634" stroke="#000" stroke-width="2.2"/>
<ellipse cx="756.70" cy="726.00" rx="6.80" ry="8.40" fill="#14c634" stroke="#000" stroke-width="2.2"/>
</svg></body></html>
